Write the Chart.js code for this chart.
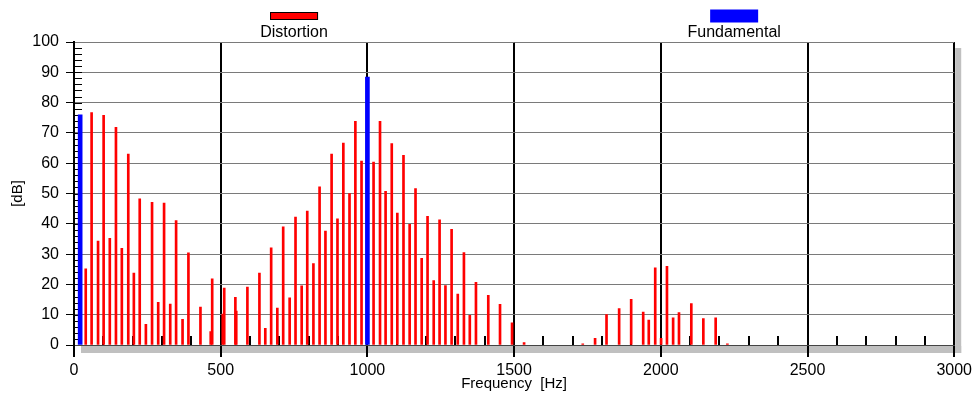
<!DOCTYPE html>
<html>
<head>
<meta charset="utf-8">
<script src="https://cdn.jsdelivr.net/npm/chart.js@4/dist/chart.umd.min.js"></script>
<style>
    html, body { margin: 0; padding: 0; background: #fff; }
    #wrap { width: 976px; height: 398px; }
</style>
</head>
<body>
<div id="wrap"><canvas id="spectrum" width="976" height="398"></canvas></div>
<script>
const FONT = 'Arial, "Liberation Sans", sans-serif';

// harmonic / intermodulation products
const distortionHz = [40, 60, 82, 101, 122, 143, 163, 185, 204, 224, 245, 266, 287, 307, 328, 348, 370, 390, 431, 466, 471,
    507, 512, 550, 553, 591, 632, 652, 672, 693, 713, 735, 755, 776, 795, 816, 837, 857, 878, 898, 918, 939, 959, 980,
    1021, 1043, 1062, 1083, 1102, 1123, 1144, 1164, 1185, 1205, 1226, 1246, 1266, 1287, 1308, 1329, 1349, 1370, 1412, 1452, 1493, 1534,
    1734, 1776, 1815, 1858, 1899, 1940, 1959, 1981, 2001, 2021, 2042, 2062, 2104, 2145, 2187, 2227];
const distortionDb = [25.1, 76.7, 34.3, 75.8, 35.2, 71.8, 31.9, 63.0, 23.7, 48.2, 6.8, 47.1, 14.1, 46.8, 13.5, 41.1, 8.5, 30.4, 12.5, 4.4, 21.8,
    10.2, 18.8, 15.7, 11.2, 19.1, 23.7, 5.5, 32.1, 12.2, 39.0, 15.6, 42.2, 19.5, 44.2, 26.9, 52.2, 37.6, 63.0, 41.6, 66.6, 50.0, 73.8, 60.7,
    60.4, 73.8, 50.7, 66.5, 43.5, 62.6, 39.8, 51.6, 28.6, 42.5, 21.3, 41.3, 19.6, 38.2, 16.8, 30.5, 9.8, 20.7, 16.4, 13.4, 7.3, 0.8,
    0.4, 2.2, 10.0, 12.0, 15.1, 10.9, 8.2, 25.5, 2.2, 26.0, 9.0, 10.7, 13.7, 8.7, 9.0, 0.4];

// the two test tones
const fundamentalHz = [21, 1000];
const fundamentalDb = [76.0, 88.4];

const xTicksMajor = 500;
const xTicksMinor = 100;
const yTicksMajor = 10;
const yTicksMinor = 2;

const toPoints = (xs, ys) => xs.map((x, i) => ({x, y: ys[i]}));

const extras = {
    id: 'extras',
    beforeDraw(chart) {
        const {ctx, chartArea: a} = chart;
        ctx.save();
        ctx.fillStyle = '#c0c0c0';
        ctx.fillRect(a.left + 7, a.bottom + 1, a.right - a.left, 7);
        ctx.fillRect(a.right + 1, a.top + 6, 6, a.bottom - a.top + 2);
        ctx.restore();
    },
    beforeDatasetsDraw(chart) {
        const {ctx, chartArea: a, scales: {x, y}} = chart;
        const base = y.getPixelForValue(0);
        ctx.save();
        ctx.strokeStyle = '#000';
        ctx.lineWidth = 2;
        ctx.beginPath();
        for (let f = xTicksMinor; f < x.max; f += xTicksMinor) {
            const px = Math.round(x.getPixelForValue(f));
            ctx.moveTo(px, base);
            ctx.lineTo(px, base - 9);
        }
        ctx.stroke();
        ctx.lineWidth = 1;
        ctx.beginPath();
        for (let d = yTicksMinor; d < y.max; d += yTicksMinor) {
            const py = Math.round(y.getPixelForValue(d)) + 0.5;
            ctx.moveTo(a.left, py);
            ctx.lineTo(a.left + 8, py);
        }
        ctx.stroke();
        ctx.restore();
    },
    afterDraw(chart) {
        const {ctx, chartArea: a} = chart;
        const w = a.right - a.left;
        ctx.save();
        chart.data.datasets.forEach((ds, i) => {
            const cx = a.left + w * (0.25 + 0.5 * i);
            const h = ds.legendBoxHeight;
            const top = 16 - h / 2;
            ctx.fillStyle = ds.backgroundColor;
            ctx.fillRect(cx - 24, top, 48, h);
            if (ds.legendBorder) {
                ctx.strokeStyle = '#000';
                ctx.lineWidth = 1;
                ctx.strokeRect(cx - 24 + 0.5, top + 0.5, 47, h - 1);
            }
            ctx.fillStyle = '#000';
            ctx.font = '16px ' + FONT;
            ctx.textAlign = 'center';
            ctx.textBaseline = 'middle';
            ctx.fillText(ds.label, cx, 33);
        });
        ctx.restore();
    }
};

new Chart(document.getElementById('spectrum'), {
    type: 'bar',
    data: {
        datasets: [{
            label: 'Distortion',
            data: toPoints(distortionHz, distortionDb),
            backgroundColor: '#ff0000',
            barThickness: 2,
            grouped: false,
            legendBoxHeight: 8,
            legendBorder: true
        }, {
            label: 'Fundamental',
            data: toPoints(fundamentalHz, fundamentalDb),
            backgroundColor: '#0000ff',
            barThickness: 4,
            grouped: false,
            legendBoxHeight: 13,
            legendBorder: false
        }]
    },
    options: {
        responsive: false,
        animation: false,
        layout: {padding: {top: 42, right: 20, left: 0, bottom: 0}},
        plugins: {legend: {display: false}, tooltip: {enabled: false}},
        scales: {
            x: {
                type: 'linear',
                min: 0,
                max: 3000,
                offset: false,
                afterFit: s => { s.height = 53; },
                grid: {offset: false, color: '#000', lineWidth: 2, tickLength: 12, tickColor: '#000', tickWidth: 2},
                border: {color: '#444', width: 1},
                ticks: {stepSize: xTicksMajor, autoSkip: false, maxRotation: 0, padding: 4, color: '#000', font: {family: FONT, size: 16},
                    callback: v => String(v)},
                title: {display: true, text: 'Frequency  [Hz]', color: '#000', font: {family: FONT, size: 15}, padding: {top: 0, bottom: 5}}
            },
            y: {
                min: 0,
                max: 100,
                afterFit: s => { s.width = 74; },
                grid: {color: '#7a7a7a', lineWidth: 1, tickLength: 8, tickColor: '#000'},
                border: {color: '#000', width: 2},
                ticks: {stepSize: yTicksMajor, padding: 7, color: '#000', font: {family: FONT, size: 16}},
                title: {display: true, text: '[dB]', color: '#000', font: {family: FONT, size: 15}, padding: {top: 9, bottom: 0}}
            }
        }
    },
    plugins: [extras]
});
</script>
</body>
</html>
